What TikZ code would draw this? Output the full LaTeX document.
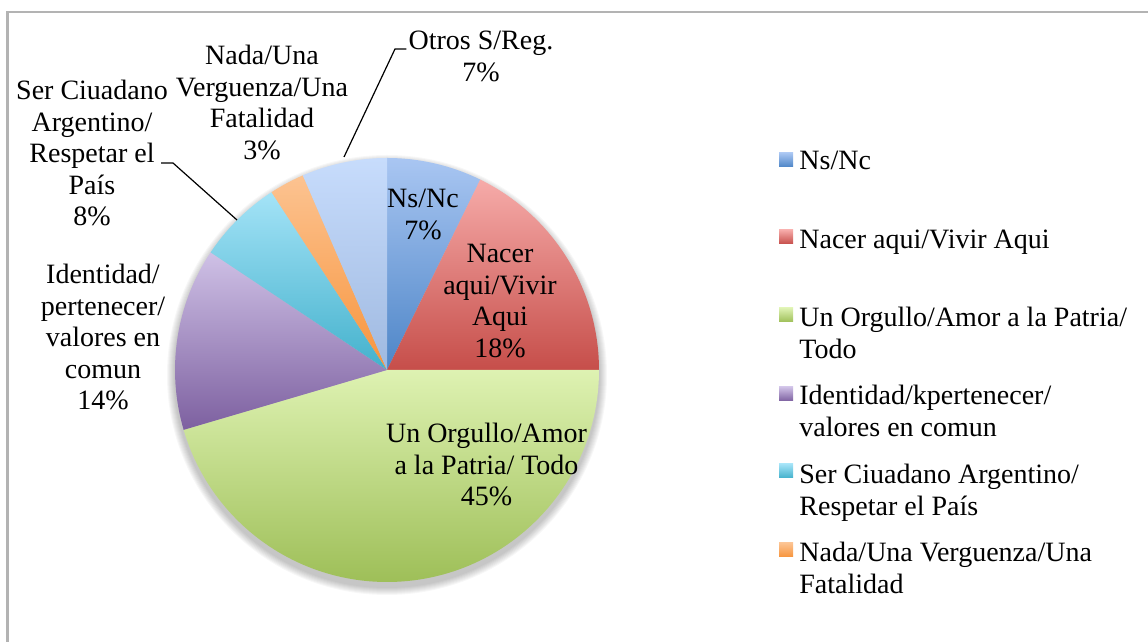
\documentclass[tikz,border=0pt]{standalone}
\usepackage{fontspec}
\setmainfont{Liberation Serif}
\definecolor{framegray}{HTML}{B3B3B3}
\definecolor{nsT}{HTML}{A9C6F2}\definecolor{nsB}{HTML}{4D85C7}
\definecolor{naT}{HTML}{F6ABA9}\definecolor{naB}{HTML}{C64E4A}
\definecolor{orT}{HTML}{DEF2B2}\definecolor{orB}{HTML}{9EBF58}
\definecolor{idT}{HTML}{CFC1E6}\definecolor{idB}{HTML}{7D60A0}
\definecolor{seT}{HTML}{A4E3F7}\definecolor{seB}{HTML}{43B1CC}
\definecolor{ndT}{HTML}{FCC391}\definecolor{ndB}{HTML}{F7943C}
\definecolor{otT}{HTML}{C7DCFC}\definecolor{otB}{HTML}{9FB9E0}
\begin{document}
\begin{tikzpicture}[x=0.5pt,y=0.5pt,
  lbl/.style={inner sep=0pt, anchor=base, font=\fontsize{14}{15.75}\selectfont},
  leg/.style={inner sep=0pt, anchor=base west, font=\fontsize{14}{15.75}\selectfont},
  leader/.style={draw=black, line width=0.6pt},
  slice/.style={draw=none}]
\useasboundingbox (0,0) rectangle (1148,642);
\begin{scope}
  \clip (0,0) rectangle (1148,642);
  \draw[framegray, line width=1.3pt] (7.5,-20) -- (7.5,630) -- (1170,630);
\end{scope}
\def\R{106pt}
\coordinate (c) at (387,272);
% soft shadow
\foreach \k in {1,...,8}{
  \fill[black, opacity=0.03] (387,267) circle[radius={106pt+0.5pt*\k}];
}
% slices
\shade[slice, top color=nsT, bottom color=nsB] (c) -- ++(90:\R) arc[start angle=90, end angle=63.9, radius=\R] -- cycle;
\shade[slice, top color=naT, bottom color=naB] (c) -- ++(63.9:\R) arc[start angle=63.9, end angle=0, radius=\R] -- cycle;
\shade[slice, top color=orT, bottom color=orB] (c) -- ++(0:\R) arc[start angle=0, end angle=-163.6, radius=\R] -- cycle;
\shade[slice, top color=idT, bottom color=idB] (c) -- ++(196.4:\R) arc[start angle=196.4, end angle=146.3, radius=\R] -- cycle;
\shade[slice, top color=seT, bottom color=seB] (c) -- ++(146.3:\R) arc[start angle=146.3, end angle=123.0, radius=\R] -- cycle;
\shade[slice, top color=ndT, bottom color=ndB] (c) -- ++(123.0:\R) arc[start angle=123.0, end angle=113.4, radius=\R] -- cycle;
\shade[slice, top color=otT, bottom color=otB] (c) -- ++(113.4:\R) arc[start angle=113.4, end angle=90, radius=\R] -- cycle;
% data labels
\node[lbl] (lNs) at (423,434) {\begin{tabular}[t]{@{}c@{}}Ns/Nc\\7\%\end{tabular}};
\node[lbl] (lNa) at (500,379) {\begin{tabular}[t]{@{}c@{}}Nacer\\aqui/Vivir\\Aqui\\18\%\end{tabular}};
\node[lbl] (lOr) at (486.5,199) {\begin{tabular}[t]{@{}c@{}}Un Orgullo/Amor\\a la Patria/ Todo\\45\%\end{tabular}};
\node[lbl] (lId) at (103,358) {\begin{tabular}[t]{@{}c@{}}Identidad/\\pertenecer/\\valores en\\comun\\14\%\end{tabular}};
\node[lbl] (lSe) at (92,542) {\begin{tabular}[t]{@{}c@{}}Ser Ciuadano\\Argentino/\\Respetar el\\País\\8\%\end{tabular}};
\node[lbl] (lNd) at (262,577) {\begin{tabular}[t]{@{}c@{}}Nada/Una\\Verguenza/Una\\Fatalidad\\3\%\end{tabular}};
\node[lbl] (lOt) at (481,592) {\begin{tabular}[t]{@{}c@{}}Otros S/Reg.\\7\%\end{tabular}};
% leader lines
\coordinate (otBend) at (395,593);
\coordinate (otTip) at (344,485);
\draw[leader] (lOt.base west) ++(-2,1) coordinate (otStart) (otStart) -- (otBend) -- (otTip);
\coordinate (seStart) at (161,479);
\coordinate (seBend) at (173,479);
\coordinate (seTip) at (237,422);
\draw[leader] (seStart) -- (seBend) -- (seTip);
% legend
\foreach \nm/\cy/\ct/\cb in {ns/482/nsT/nsB, na/405/naT/naB, or/327/orT/orB, id/248/idT/idB, se/171/seT/seB, nd/92/ndT/ndB}{
  \shade[top color=\ct, bottom color=\cb] (779,\cy-7) rectangle (793,\cy+7);
}
\node[leg] (gNs) at (799,472) {Ns/Nc};
\node[leg] (gNa) at (799,393) {Nacer aqui/Vivir Aqui};
\node[leg] (gOr) at (799,315) {\begin{tabular}[t]{@{}l@{}}Un Orgullo/Amor a la Patria/\\Todo\end{tabular}};
\node[leg] (gId) at (799,237) {\begin{tabular}[t]{@{}l@{}}Identidad/kpertenecer/\\valores en comun\end{tabular}};
\node[leg] (gSe) at (799,158) {\begin{tabular}[t]{@{}l@{}}Ser Ciuadano Argentino/\\Respetar el País\end{tabular}};
\node[leg] (gNd) at (799,80) {\begin{tabular}[t]{@{}l@{}}Nada/Una Verguenza/Una\\Fatalidad\end{tabular}};
\end{tikzpicture}
\end{document}
